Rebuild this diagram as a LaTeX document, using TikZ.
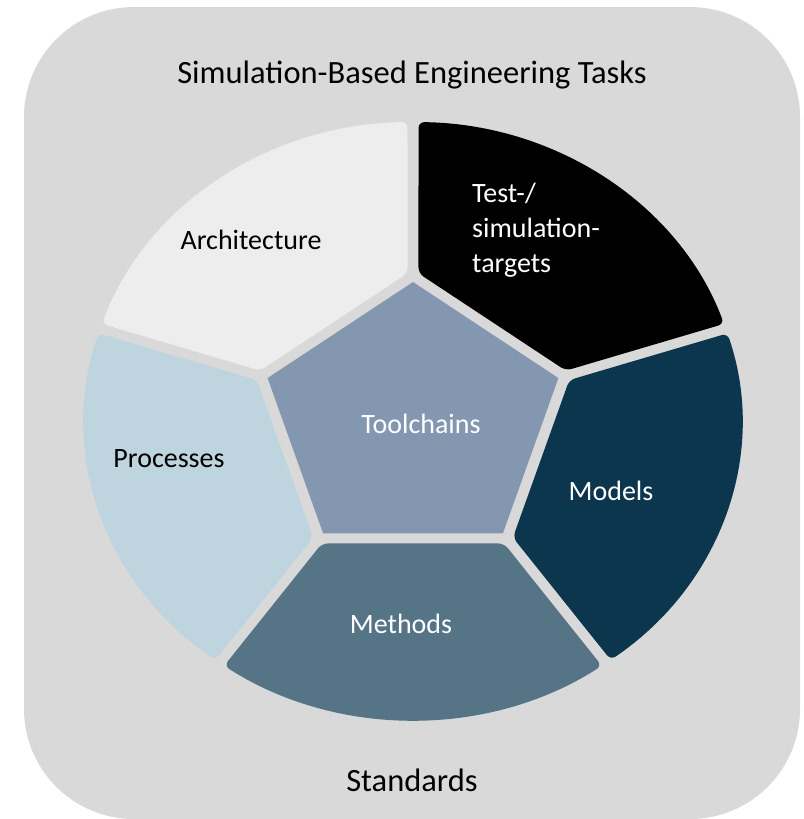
\documentclass[tikz,border=0pt]{standalone}
\usepackage{fontspec}
\setmainfont{Carlito}

\begin{document}
\begin{tikzpicture}[x=1pt, y=-1pt]
  \definecolor{framegray}{HTML}{D9D9D9}
  \definecolor{archcol}{HTML}{EDEDED}
  \definecolor{testcol}{HTML}{000000}
  \definecolor{modcol}{HTML}{0B364E}
  \definecolor{methcol}{HTML}{557587}
  \definecolor{proccol}{HTML}{BED4DF}
  \definecolor{toolcol}{HTML}{8497B0}
  \tikzstyle{segment}=[rounded corners=6pt]
  \tikzstyle{tasktext}=[inner sep=0pt, align=left, font=\fontsize{28}{35}\selectfont]
  \tikzstyle{headtext}=[inner sep=0pt, font=\fontsize{32.5}{38}\selectfont]

  \useasboundingbox (0,0) rectangle (803,819);
  \fill[framegray, rounded corners=110pt] (24,7) rectangle (800,819);

  \begin{scope}[shift={(413,421)}, xscale=1.1, yscale=-1]
    \foreach \mid/\col in {126/archcol, 198/proccol, 270/methcol, 342/modcol, 54/testcol}
      \fill[\col, segment] (\mid-34.07:147.8) -- (\mid-35.04:299)
        arc[start angle=\mid-35.04, end angle=\mid+35.04, radius=299]
        -- (\mid+34.07:147.8) -- cycle;
    \fill[toolcol] (90:139) -- (162:139) -- (234:139) -- (306:139) -- (18:139) -- cycle;
  \end{scope}

  \node[headtext] (title) at (412,75) {Simulation-Based Engineering Tasks};
  \node[tasktext] (arch) at (251,240) {Architecture};
  \node[tasktext, white, anchor=west] (test) at (472,230) {Test-/\\simulation-\\targets};
  \node[tasktext] (proc) at (169,459) {Processes};
  \node[tasktext, white] (tool) at (421,424) {Toolchains};
  \node[tasktext, white] (model) at (611,491) {Models};
  \node[tasktext, white] (method) at (401,624) {Methods};
  \node[headtext] (std) at (412,780) {Standards};
\end{tikzpicture}
\end{document}
